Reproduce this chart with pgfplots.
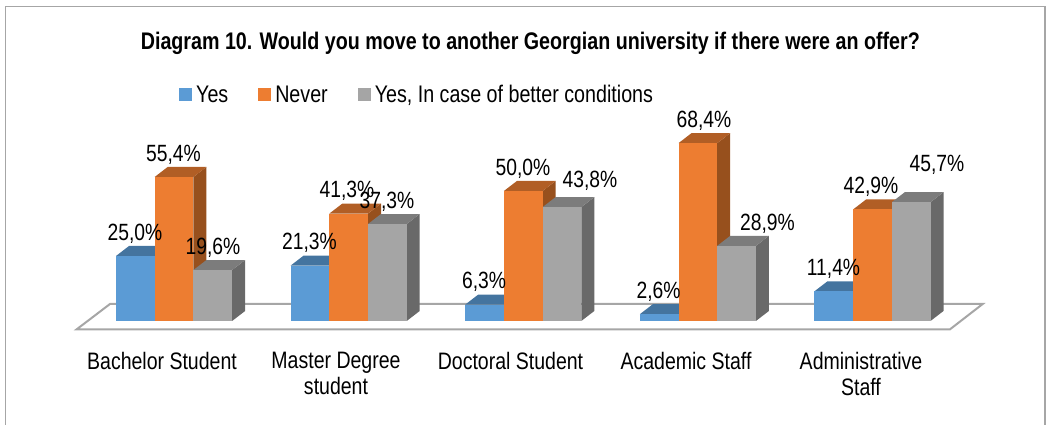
\documentclass[border=0pt]{standalone}
\usepackage{pgfplots}
\usepackage{fontspec}
\pgfplotsset{compat=1.18}
\setmainfont[FakeStretch=0.82]{Liberation Sans}
\definecolor{cbf}{HTML}{5B9BD5}\definecolor{cbt}{HTML}{44749F}
\definecolor{cof}{HTML}{ED7D31}\definecolor{cot}{HTML}{B15E25}\definecolor{cos}{HTML}{97501D}
\definecolor{cgf}{HTML}{A5A5A5}\definecolor{cgt}{HTML}{7C7C7C}\definecolor{cgs}{HTML}{696969}
\definecolor{cfr}{HTML}{A6A6A6}
% left edge in px, value in %, front/top/side colours
\newcommand{\threeD}[5]{%
  \pgfmathsetmacro{\xa}{#1}\pgfmathsetmacro{\xm}{#1+19.35}\pgfmathsetmacro{\xb}{#1+38.7}
  \pgfmathsetmacro{\xc}{#1+51.7}\pgfmathsetmacro{\xd}{#1+13}
  \pgfmathsetmacro{\yt}{#2}\pgfmathsetmacro{\yu}{#2+3.85}
  \addplot[forget plot,fill=#5,draw=none] coordinates {(\xb,0) (\xc,3.85) (\xc,\yu) (\xb,\yt)} --cycle;
  \addplot[forget plot,fill=#4,draw=none] coordinates {(\xa,\yt) (\xb,\yt) (\xc,\yu) (\xd,\yu)} --cycle;
  \addplot[forget plot,ybar,bar width=38.7,bar shift=0pt,fill=#3,draw=none] coordinates {(\xm,#2)};
}
\newcommand{\vlab}[3]{\node[anchor=base,inner sep=0pt,font=\lblfont] at (axis cs:#1,#2) {#3};}
\newcommand{\lblfont}{\fontsize{23.5}{26}\selectfont}
\begin{document}
\begin{tikzpicture}[x=1pt,y=1pt]
\useasboundingbox (0,0) rectangle (1046,425);
\begin{axis}[
  at={(0pt,85pt)},anchor=south west,
  scale only axis,width=1046pt,height=340pt,
  xmin=0,xmax=1046,ymin=-7.31,ymax=123.46,
  clip=false,
  axis line style={draw=none},
  ytick=\empty,
  xtick={162,336,510.5,686,861},
  xticklabels={{Bachelor Student},{Master Degree\\student},{Doctoral Student},{Academic Staff},{Administrative\\Staff}},
  tick style={draw=none},
  xticklabel style={align=center,font=\fontsize{23.8}{26}\selectfont,inner sep=0pt,yshift=-12pt},
  title={\fontsize{24}{26}\selectfont\bfseries Diagram 10. Would you move to another Georgian university if there were an offer?},
  title style={at={(axis description cs:0.507,0.8555)},anchor=center,inner sep=0pt},
  legend columns=3,
  legend style={at={(axis description cs:0.1711,0.722)},anchor=west,draw=none,fill=none,inner sep=0pt,
    font=\fontsize{24}{26}\selectfont,
    /tikz/every even column/.append style={column sep=28pt}},
  legend image code/.code={\path[draw=none,fill=none] (0pt,0pt) -- (15pt,0pt);\path[draw=none,fill=#1] (0pt,-6.5pt) rectangle (13pt,6.5pt);},
]
\addlegendimage{cbf}\addlegendentry{Yes}
\addlegendimage{cof}\addlegendentry{Never}
\addlegendimage{cgf}\addlegendentry{Yes, In case of better conditions}
% floor
\addplot[forget plot,fill=white,draw=cfr,line width=2pt] coordinates {(76.7,-3.2) (950,-3.2) (982.7,6.54) (110,6.54)} --cycle;
% Bachelor Student
\threeD{116}{25.0}{cbf}{cbt}{cbt}
\threeD{154.7}{55.4}{cof}{cot}{cos}
\threeD{193.4}{19.6}{cgf}{cgt}{cgs}
% Master Degree student
\threeD{290.6}{21.3}{cbf}{cbt}{cbt}
\threeD{329.3}{41.3}{cof}{cot}{cos}
\threeD{368}{37.3}{cgf}{cgt}{cgs}
% Doctoral Student
\threeD{465.2}{6.3}{cbf}{cbt}{cbt}
\threeD{503.9}{50.0}{cof}{cot}{cos}
\threeD{542.6}{43.8}{cgf}{cgt}{cgs}
% Academic Staff
\threeD{639.8}{2.6}{cbf}{cbt}{cbt}
\threeD{678.5}{68.4}{cof}{cot}{cos}
\threeD{717.2}{28.9}{cgf}{cgt}{cgs}
% Administrative Staff
\threeD{814.4}{11.4}{cbf}{cbt}{cbt}
\threeD{853.1}{42.9}{cof}{cot}{cos}
\threeD{891.8}{45.7}{cgf}{cgt}{cgs}
% labels
\vlab{135}{31.04}{25,0\%}
\vlab{173.5}{61.44}{55,4\%}
\vlab{213}{25.64}{19,6\%}
\vlab{309.5}{27.34}{21,3\%}
\vlab{347}{47.34}{41,3\%}
\vlab{387}{43.34}{37,3\%}
\vlab{484}{12.34}{6,3\%}
\vlab{523}{56.04}{50,0\%}
\vlab{590}{51.35}{43,8\%}
\vlab{658.5}{8.64}{2,6\%}
\vlab{704}{74.44}{68,4\%}
\vlab{767.5}{34.94}{28,9\%}
\vlab{833.5}{17.44}{11,4\%}
\vlab{871}{48.94}{42,9\%}
\vlab{937}{57.5}{45,7\%}
\end{axis}
\draw[cfr,line width=1.4pt] (5.5,0) -- (5.5,418.5);
\draw[cfr,line width=1.4pt] (5.5,418.5) -- (1045,418.5);
\draw[cfr,line width=1.4pt] (1045,418.5) -- (1045,0);
\end{tikzpicture}
\end{document}
